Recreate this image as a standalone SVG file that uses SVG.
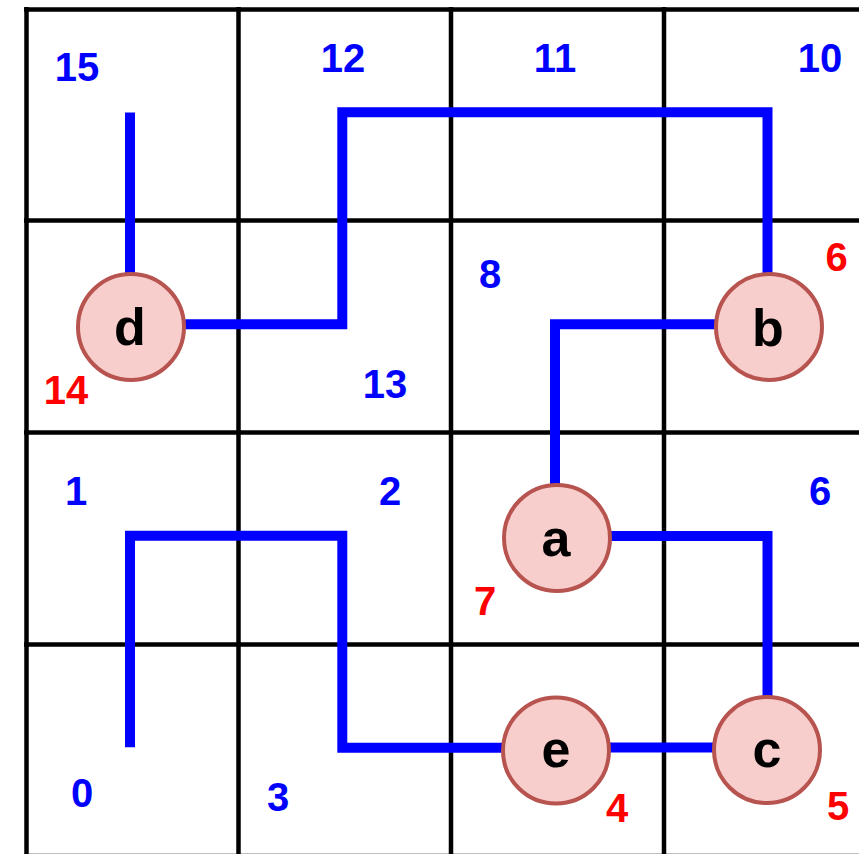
<svg xmlns="http://www.w3.org/2000/svg" width="859" height="854" viewBox="0 0 859 854">
  <style>
    .grid { stroke: #000000; stroke-width: 4.5; fill: none; }
    .wire { stroke: #0000ff; stroke-width: 10; fill: none; stroke-linejoin: miter; stroke-linecap: butt; }
    .node circle { fill: #f8cecc; stroke: #b85450; stroke-width: 4; }
    .node text { font-family: "Liberation Sans", Arial, sans-serif; font-weight: bold; font-size: 52px; fill: #000000; text-anchor: middle; }
    .cell { font-family: "Liberation Sans", Arial, sans-serif; font-weight: bold; font-size: 40px; fill: #0000ff; text-anchor: middle; }
    .slot { font-family: "Liberation Sans", Arial, sans-serif; font-weight: bold; font-size: 40px; fill: #ff0000; text-anchor: middle; }
  </style>
  <rect width="859" height="854" fill="#ffffff"/>

  <!-- 4x4 grid -->
  <g id="grid" class="grid">
    <line x1="26.5" y1="7" x2="26.5" y2="860"/>
    <line x1="238.5" y1="7" x2="238.5" y2="860"/>
    <line x1="451" y1="7" x2="451" y2="860"/>
    <line x1="664" y1="7" x2="664" y2="860"/>
    <line x1="24" y1="9.5" x2="859" y2="9.5"/>
    <line x1="24" y1="220.5" x2="859" y2="220.5"/>
    <line x1="24" y1="432.5" x2="859" y2="432.5"/>
    <line x1="24" y1="644.5" x2="859" y2="644.5"/>
    <line x1="24" y1="856" x2="859" y2="856"/>
  </g>

  <!-- cell numbers -->
  <g id="cell-labels" class="cell">
    <text x="77" y="81">15</text>
    <text x="343" y="72">12</text>
    <text x="555" y="72">11</text>
    <text x="820" y="72">10</text>
    <text x="490" y="288">8</text>
    <text x="385" y="398">13</text>
    <text x="76" y="505">1</text>
    <text x="390" y="505">2</text>
    <text x="820" y="505">6</text>
    <text x="82" y="807">0</text>
    <text x="278" y="811">3</text>
  </g>

  <!-- routed connections -->
  <g id="connectors" class="wire">
    <path id="wire-d-top" d="M130 112.5 V327"/>
    <path id="wire-d-b" d="M131 324.3 H342.3 V112.3 H767.5 V327"/>
    <path id="wire-b-a" d="M769 324.3 H555 V538"/>
    <path id="wire-a-c" d="M557 536 H767.5 V750"/>
    <path id="wire-e-c" d="M556 747.5 H767"/>
    <path id="wire-e-left" d="M556 747.7 H342.3 V535.8 H130 V747.3"/>
  </g>

  <!-- nodes -->
  <g id="node-d" class="node">
    <circle cx="131" cy="327" r="53"/>
    <text x="130" y="345">d</text>
  </g>
  <g id="node-b" class="node">
    <circle cx="769" cy="327" r="53"/>
    <text x="768" y="346">b</text>
  </g>
  <g id="node-a" class="node">
    <circle cx="557" cy="538" r="53"/>
    <text x="556" y="556">a</text>
  </g>
  <g id="node-e" class="node">
    <circle cx="556" cy="750.5" r="53"/>
    <text x="556" y="767">e</text>
  </g>
  <g id="node-c" class="node">
    <circle cx="767" cy="750" r="53"/>
    <text x="767" y="767">c</text>
  </g>

  <!-- slot numbers -->
  <g id="slot-labels" class="slot">
    <text x="836.5" y="271">6</text>
    <text x="66" y="404">14</text>
    <text x="485" y="615">7</text>
    <text x="617" y="822">4</text>
    <text x="838" y="820">5</text>
  </g>
</svg>
